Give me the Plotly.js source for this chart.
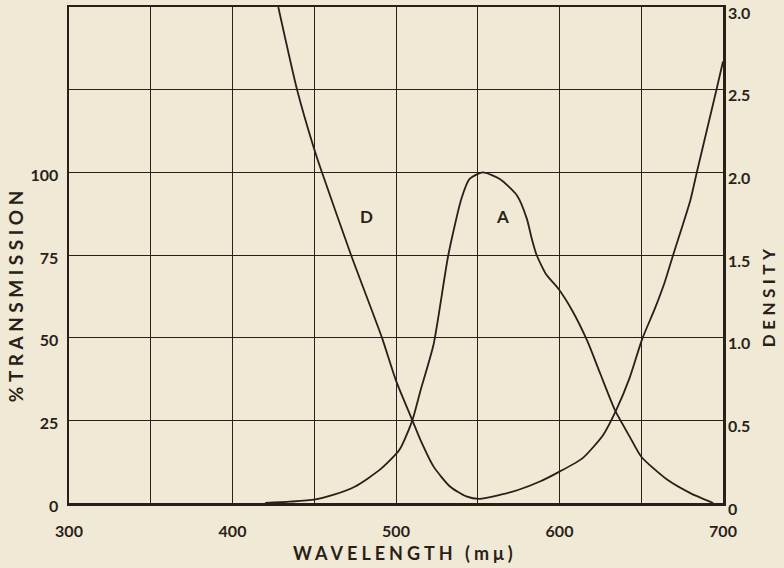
<!DOCTYPE html>
<html>
<head>
<meta charset="utf-8">
<script src="https://cdn.plot.ly/plotly-3.0.1.min.js"></script>
<style>html,body{margin:0;padding:0;background:#efe9d6;}</style>
</head>
<body>
<div id="chart" style="width:784px;height:568px;"></div>
<script>
// Curve A: % transmission (left axis)
const wavelengthA = [420, 435, 450, 462, 475, 490, 502, 510, 515, 523, 532, 540, 545, 553, 563.5, 574, 580, 583, 586, 592, 599, 608, 617, 625, 634, 643, 650, 666, 680, 694];
const transmissionA = [0, 0.4, 1, 2.5, 5, 10, 16, 25, 34, 48, 75, 92, 98, 100, 98, 93, 86, 80, 75, 69, 65, 58, 49, 39, 28, 20, 14, 7, 3, 0];

// Curve D: density (right axis)
const wavelengthD = [428, 439.5, 450, 454.7, 472.5, 491.4, 500, 510, 515, 523, 533, 543, 551, 564, 575, 588, 600, 614, 626.6, 634.6, 643, 650.5, 658.5, 664.5, 669.5, 680, 684, 696, 700];
const densityD = [3.0, 2.5, 2.14, 2.0, 1.5, 1.0, 0.74, 0.5, 0.38, 0.22, 0.10, 0.04, 0.025, 0.05, 0.08, 0.13, 0.19, 0.27, 0.41, 0.56, 0.76, 0.99, 1.18, 1.34, 1.5, 1.83, 2.0, 2.5, 2.67];

const xTickVals = [300, 350, 400, 450, 500, 550, 600, 650, 700];
const xTickText = ['300', '', '400', '', '500', '', '600', '', '700'];
const leftTickVals = [0, 25, 50, 75, 100, 125, 150];
const leftTickText = ['0', '25', '50', '75', '100', '', ''];
const rightTickVals = [0, 0.5, 1.0, 1.5, 2.0, 2.5, 3.0];
const rightTickText = ['0', '0.5', '1.0', '1.5', '2.0', '2.5', '3.0'];

const ink = '#2a1f19';
const paper = '#efe9d6';
const fam = 'Lato, "DejaVu Sans", sans-serif';
const tickFont = {family: fam, size: 16, color: ink, weight: 'bold'};

const traces = [
  {x: wavelengthA, y: transmissionA, type: 'scatter', mode: 'lines', name: 'A',
   line: {color: ink, width: 1.8, shape: 'spline', smoothing: 0.6}, yaxis: 'y', showlegend: false, hoverinfo: 'skip'},
  {x: wavelengthD, y: densityD, type: 'scatter', mode: 'lines', name: 'D',
   line: {color: ink, width: 1.8, shape: 'spline', smoothing: 0.6}, yaxis: 'y2', showlegend: false, hoverinfo: 'skip'}
];

const layout = {
  width: 784, height: 568,
  margin: {l: 69, r: 61, t: 7, b: 65},
  paper_bgcolor: paper, plot_bgcolor: paper,
  font: tickFont,
  showlegend: false,
  xaxis: {range: [300, 700], tickmode: 'array', tickvals: xTickVals, ticktext: xTickText,
          showgrid: true, gridcolor: ink, gridwidth: 1, zeroline: false,
          showline: true, linecolor: ink, linewidth: 2.5, mirror: true, ticks: '',
          ticklabelstandoff: 12, tickfont: tickFont, ticklabeloverflow: 'allow', fixedrange: true},
  yaxis: {range: [0, 150], tickmode: 'array', tickvals: leftTickVals, ticktext: leftTickText,
          showgrid: true, gridcolor: ink, gridwidth: 1, zeroline: false,
          showline: true, linecolor: ink, linewidth: 2.5, mirror: true, ticks: '',
          ticklabelstandoff: 5, ticklabelshift: 3, tickfont: tickFont, ticklabeloverflow: 'allow', fixedrange: true},
  yaxis2: {range: [0, 3], overlaying: 'y', side: 'right', tickmode: 'array',
           tickvals: rightTickVals, ticktext: rightTickText, showgrid: false, zeroline: false,
           showline: false, ticks: '', ticklabelstandoff: 4, ticklabelshift: 6, tickfont: tickFont,
           ticklabeloverflow: 'allow', fixedrange: true},
  annotations: [
    {text: 'D', x: 482, y: 86.7, xref: 'x', yref: 'y', showarrow: false,
     xanchor: 'center', yanchor: 'middle', font: {family: fam, size: 17, color: ink, weight: 'bold'}},
    {text: 'A', x: 565, y: 86.7, xref: 'x', yref: 'y', showarrow: false,
     xanchor: 'center', yanchor: 'middle', font: {family: fam, size: 17, color: ink, weight: 'bold'}},
    {text: '<span style="letter-spacing:4px">WAVELENGTH (m\u03bc)</span>', x: 0.514, y: -0.101,
     xref: 'paper', yref: 'paper', xanchor: 'center', yanchor: 'middle',
     showarrow: false, font: {family: fam, size: 18, color: ink, weight: 'bold'}},
    {text: '<span style="letter-spacing:4.5px">%TRANSMISSION</span>', x: -0.0826, y: 0.421,
     xref: 'paper', yref: 'paper', xanchor: 'center', yanchor: 'middle',
     textangle: -90, showarrow: false, font: {family: fam, size: 19, color: ink, weight: 'bold'}},
    {text: '<span style="letter-spacing:4.5px">DENSITY</span>', x: 1.069, y: 0.417,
     xref: 'paper', yref: 'paper', xanchor: 'center', yanchor: 'middle',
     textangle: -90, showarrow: false, font: {family: fam, size: 17, color: ink, weight: 'bold'}}
  ]
};

Plotly.newPlot('chart', traces, layout, {displayModeBar: false, staticPlot: true});
</script>
</body>
</html>
